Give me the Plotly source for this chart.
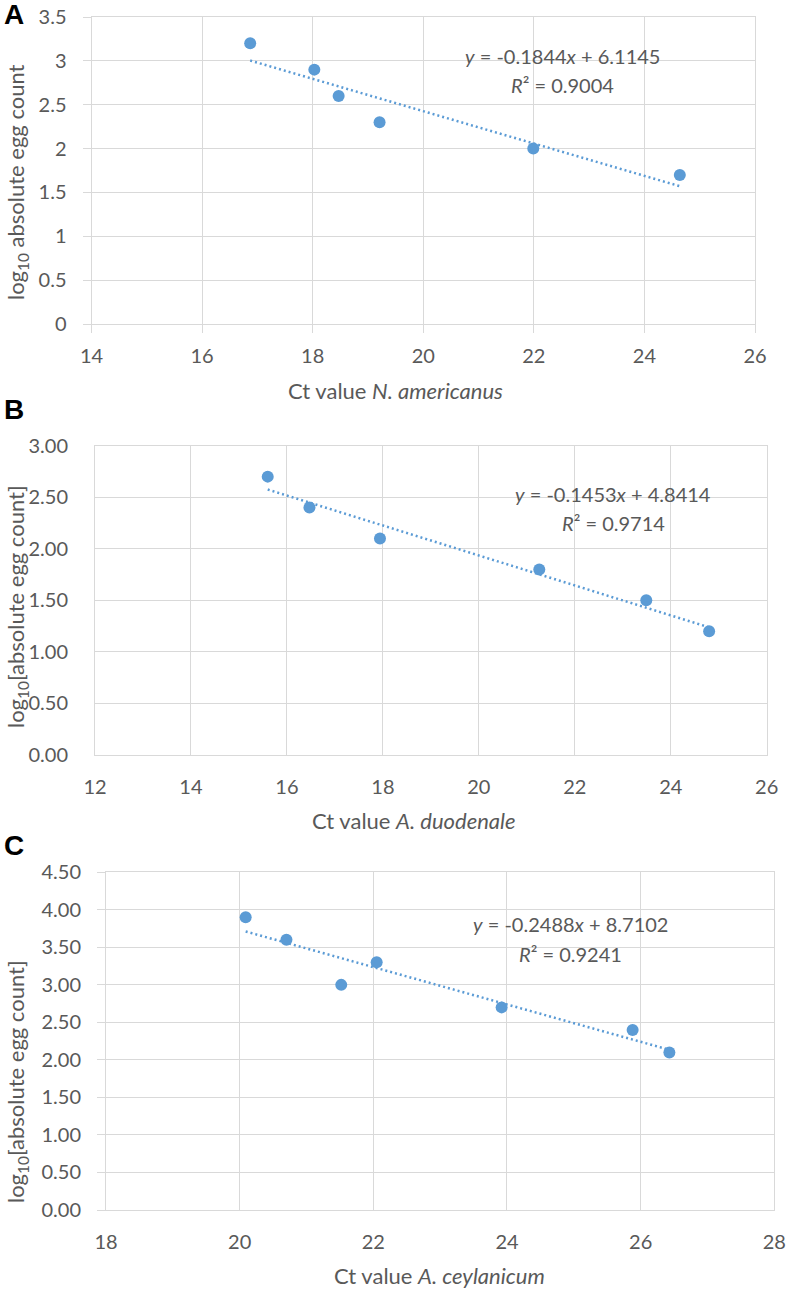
import plotly.graph_objects as go
import numpy as np

# ---- data ----
A_ct = [16.87, 18.03, 18.47, 19.21, 21.99, 24.64]
A_log = [3.2, 2.9, 2.6, 2.3, 2.0, 1.7]
B_ct = [15.6, 16.47, 17.94, 21.26, 23.49, 24.8]
B_log = [2.7, 2.4, 2.1, 1.8, 1.5, 1.2]
C_ct = [20.09, 20.70, 21.52, 22.05, 23.92, 25.88, 26.43]
C_log = [3.9, 3.6, 3.0, 3.3, 2.7, 2.4, 2.1]

slopes = [-0.1844, -0.1453, -0.2488]
intercepts = [6.1145, 4.8414, 8.7102]
r2_values = ["0.9004", "0.9714", "0.9241"]
eq_texts = ["-0.1844", "-0.1453", "-0.2488"]
int_texts = ["6.1145", "4.8414", "8.7102"]
x_titles = ["Ct value <i>N. americanus</i>", "Ct value <i>A. duodenale</i>", "Ct value <i>A. ceylanicum</i>"]
y_titles = ["log<sub>10</sub> absolute egg count", "log<sub>10</sub>[absolute egg count]", "log<sub>10</sub>[absolute egg count]"]
panel_labels = ["A", "B", "C"]

W, H = 786, 1289
def px_x(v): return v / W
def px_y(v): return 1 - v / H

# plot-area pixel boxes (left, right, top, bottom)
boxes = [(91.5, 755, 17, 324), (95, 766.7, 445.7, 755), (106, 774.3, 872.3, 1210)]
x_ranges = [[14, 26], [12, 26], [18, 28]]
y_ranges = [[0, 3.5], [0, 3.0], [0, 4.5]]
y_fmt = ["", ".2f", ".2f"]
y_ticklen = [8, 0, 8]
x_ticklen = [8, 0, 0]
y_standoff = [12, 22, 12]
x_standoff = [6, 14, 14]
xtitle_pos = [(395, 390), (414, 820), (439, 1275)]
ytitle_pos = [(17, 182), (17, 607), (17, 1082)]
label_pos = [(14, 15), (14, 410), (14, 846)]
eq_pos = [(562, 56, 85), (613, 494, 523), (570, 924, 954)]

BLUE = "#5B9BD5"
GRID = "#D9D9D9"
TXT = "#595959"
FONT = "Lato"

fig = go.Figure()
datasets = [(A_ct, A_log), (B_ct, B_log), (C_ct, C_log)]
annotations = []
layout = {}

def ann(x, y, text, size, color=TXT, family=FONT, angle=0):
    return dict(x=px_x(x), y=px_y(y), xref="paper", yref="paper", showarrow=False,
                xanchor="center", yanchor="middle", text=text, textangle=angle,
                font=dict(family=family, size=size, color=color))

for i, (xs, ys) in enumerate(datasets):
    sfx = "" if i == 0 else str(i + 1)
    xa, ya = "x" + sfx, "y" + sfx
    xline = np.array([min(xs), max(xs)])
    fig.add_trace(go.Scatter(x=xline, y=slopes[i] * xline + intercepts[i], mode="lines",
                             xaxis=xa, yaxis=ya, line=dict(color=BLUE, width=2.5, dash="2px,3px"),
                             showlegend=False))
    fig.add_trace(go.Scatter(x=xs, y=ys, mode="markers", xaxis=xa, yaxis=ya,
                             marker=dict(size=12, color=BLUE), showlegend=False))
    l, r, t, b = boxes[i]
    layout["xaxis" + sfx] = dict(domain=[px_x(l), px_x(r)], anchor=ya, range=x_ranges[i],
                                 automargin=False,
                                 dtick=2, tick0=0, showgrid=True, gridcolor=GRID, gridwidth=1,
                                 zeroline=False, showline=True, mirror=True, linecolor=GRID,
                                 ticks="outside" if x_ticklen[i] else "", ticklen=x_ticklen[i],
                                 tickcolor=GRID, ticklabelstandoff=x_standoff[i],
                                 tickfont=dict(family=FONT, size=20, color=TXT))
    layout["yaxis" + sfx] = dict(domain=[px_y(b), px_y(t)], anchor=xa, range=y_ranges[i],
                                 automargin=False,
                                 dtick=0.5, tick0=0, tickformat=y_fmt[i], showgrid=True,
                                 gridcolor=GRID, gridwidth=1, zeroline=False, showline=True,
                                 mirror=True, linecolor=GRID,
                                 ticks="outside" if y_ticklen[i] else "", ticklen=y_ticklen[i],
                                 tickcolor=GRID, ticklabelstandoff=y_standoff[i],
                                 tickfont=dict(family=FONT, size=20, color=TXT))
    ex, ey1, ey2 = eq_pos[i]
    annotations.append(ann(ex, ey1, f"<i>y</i> = {eq_texts[i]}<i>x</i> + {int_texts[i]}", 20))
    annotations.append(ann(ex, ey2, f"<i>R</i>² = {r2_values[i]}", 20))
    tx, ty = xtitle_pos[i]
    annotations.append(ann(tx, ty, x_titles[i], 22))
    yx, yy = ytitle_pos[i]
    annotations.append(ann(yx, yy, y_titles[i], 22, angle=-90))
    lx, ly = label_pos[i]
    annotations.append(ann(lx, ly, f"<b>{panel_labels[i]}</b>", 28, color="black",
                           family="Liberation Sans"))

fig.update_layout(width=W, height=H, margin=dict(l=0, r=0, t=0, b=0),
                  paper_bgcolor="white", plot_bgcolor="white",
                  annotations=annotations, **layout)
fig.write_html("out.html", config={"displayModeBar": False},
               post_script="document.body.style.margin='0';")
